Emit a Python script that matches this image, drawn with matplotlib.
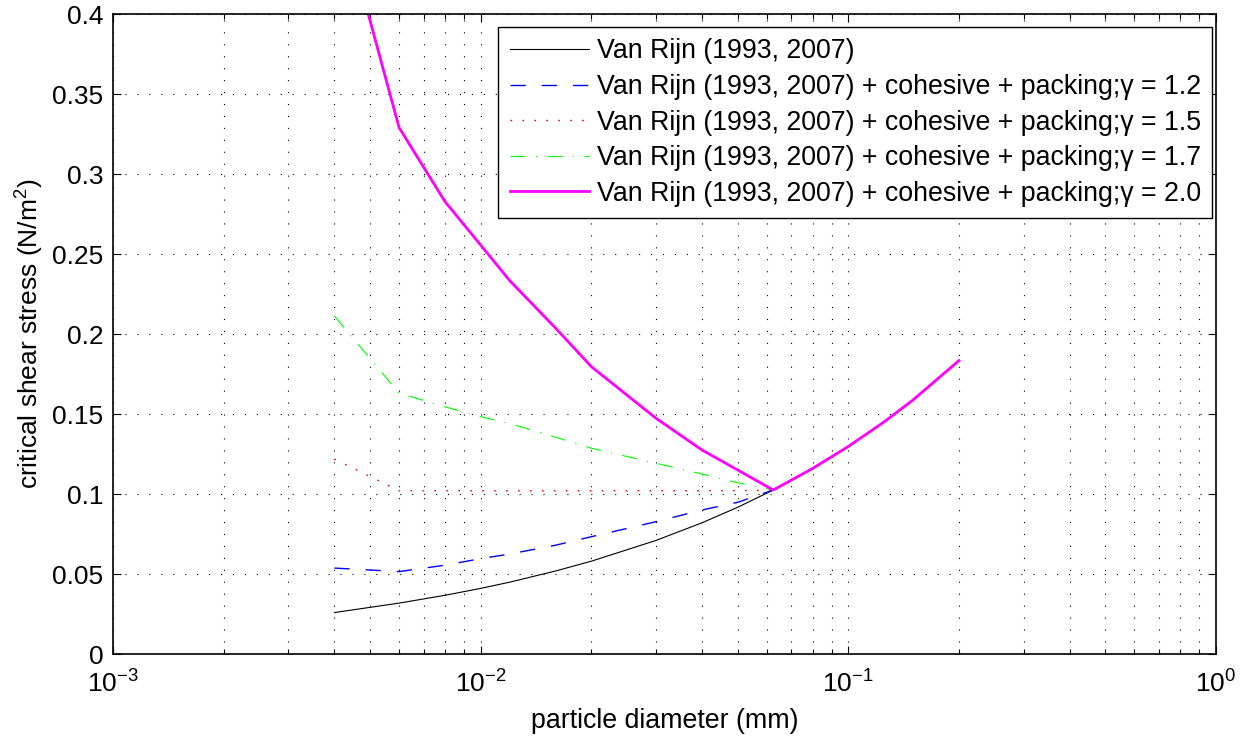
import matplotlib
matplotlib.use("Agg")
import matplotlib.pyplot as plt
from matplotlib.ticker import LogLocator, FixedLocator, FormatStrFormatter, NullFormatter

plt.rcParams['font.family'] = ['Liberation Sans', 'DejaVu Sans']
plt.rcParams['mathtext.fontset'] = 'custom'
plt.rcParams['mathtext.rm'] = 'Liberation Sans'
plt.rcParams['mathtext.it'] = 'Liberation Sans:italic'
plt.rcParams['lines.scale_dashes'] = False

# particle diameter (mm)
d = [0.004, 0.006, 0.008, 0.01, 0.012, 0.016, 0.02, 0.03, 0.04, 0.05,
     0.0625, 0.08, 0.1, 0.125, 0.15, 0.2]

tau_vanrijn = [0.0259, 0.0318, 0.0367, 0.0410, 0.0449, 0.0519, 0.0580, 0.0710,
               0.0820, 0.0917, 0.1025, 0.1160, 0.1297, 0.1450, 0.1588, 0.1834]
tau_g12 = [0.0537, 0.0515, 0.0555, 0.0596, 0.0625, 0.0680, 0.0733, 0.0827,
           0.0900, 0.0948, 0.1025, 0.1160, 0.1297, 0.1450, 0.1588, 0.1834]
tau_g15 = [0.1219, 0.1020, 0.1020, 0.1020, 0.1020, 0.1020, 0.1020, 0.1020,
           0.1020, 0.1021, 0.1025, 0.1160, 0.1297, 0.1450, 0.1588, 0.1834]
tau_g17 = [0.2113, 0.1630, 0.1545, 0.1483, 0.1440, 0.1355, 0.1286, 0.1192,
           0.1125, 0.1070, 0.1025, 0.1160, 0.1297, 0.1450, 0.1588, 0.1834]
tau_g20 = [0.4780, 0.3290, 0.2827, 0.2556, 0.2333, 0.2036, 0.1796, 0.1473,
           0.1275, 0.1150, 0.1025, 0.1160, 0.1297, 0.1450, 0.1588, 0.1834]

labels = ['Van Rijn (1993, 2007)',
          'Van Rijn (1993, 2007) + cohesive + packing;\u03b3 = 1.2',
          'Van Rijn (1993, 2007) + cohesive + packing;\u03b3 = 1.5',
          'Van Rijn (1993, 2007) + cohesive + packing;\u03b3 = 1.7',
          'Van Rijn (1993, 2007) + cohesive + packing;\u03b3 = 2.0']

y_ticks = [0, 0.05, 0.1, 0.15, 0.2, 0.25, 0.3, 0.35, 0.4]

FS = 19

fig = plt.figure(figsize=(12.48, 7.38), dpi=100)
ax = fig.add_axes([113/1248, 84/738, (1216-113)/1248, (654-14)/738])

ax.plot(d, tau_vanrijn, color='k', lw=0.8, label=labels[0])
ax.plot(d, tau_g12, color='#0000ff', lw=1.0, linestyle=(0, (11, 11.5)), label=labels[1])
ax.plot(d, tau_g15, color='#ff0000', lw=1.0, linestyle=(0, (1.2, 7.4)), label=labels[2])
ax.plot(d, tau_g17, color='#00ff00', lw=0.8, linestyle=(0, (10.8, 7.5, 0.8, 7.5)), label=labels[3])
ax.plot(d, tau_g20, color='#ff00ff', lw=2.0, label=labels[4])

ax.set_xscale('log')
ax.set_xlim(1e-3, 1)
ax.set_ylim(0, 0.4)
ax.yaxis.set_major_locator(FixedLocator(y_ticks))
ax.yaxis.set_major_formatter(FormatStrFormatter('%g'))
ax.xaxis.set_major_locator(LogLocator(base=10, numticks=10))
ax.xaxis.set_minor_locator(LogLocator(base=10, subs=range(2, 10), numticks=20))
ax.xaxis.set_minor_formatter(NullFormatter())

grid_style = dict(color='k', lw=0.8, linestyle=(0, (0.8, 7.8)))
ax.grid(True, which='major', axis='both', **grid_style)
ax.grid(True, which='minor', axis='x', **grid_style)
ax.set_axisbelow(True)

ax.tick_params(which='both', direction='in', top=True, right=True, labelsize=FS, width=0.8)
ax.tick_params(which='major', length=6)
ax.tick_params(which='minor', length=3.5)
ax.tick_params(axis='x', which='major', pad=12)
ax.tick_params(axis='y', which='major', pad=7)
for s in ax.spines.values():
    s.set_linewidth(1.2)

ax.set_xlabel('particle diameter (mm)', fontsize=19.3, labelpad=7)
ax.set_ylabel(r'critical shear stress (N/m$^2$)', fontsize=FS, labelpad=4)

leg = ax.legend(loc='upper right', bbox_to_anchor=(0.9964, 0.9797), fontsize=19.3,
                frameon=True, fancybox=False, edgecolor='k', framealpha=1,
                handlelength=2.95, handletextpad=0.3, borderaxespad=0,
                labelspacing=0.36, borderpad=0.42)
leg.get_frame().set_linewidth(1.0)

fig.savefig('out.png', dpi=100)
